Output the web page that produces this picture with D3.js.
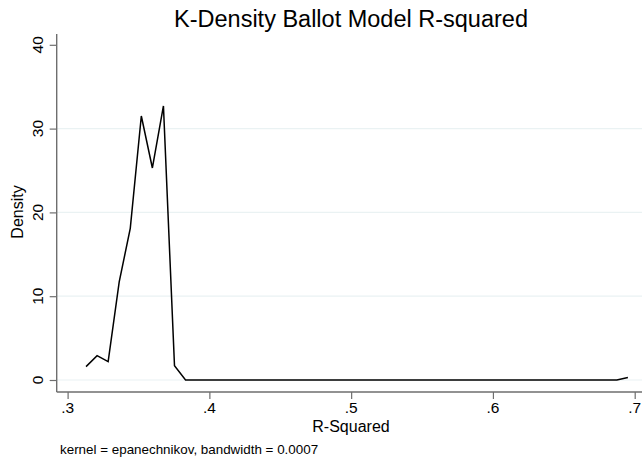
<!DOCTYPE html>
<html>
<head>
<meta charset="utf-8">
<script src="https://cdn.jsdelivr.net/npm/d3@7"></script>
<style>
  html, body { margin: 0; padding: 0; background: #fff; }
  text { font-family: "Liberation Sans", Arial, Helvetica, sans-serif; fill: #000; }
</style>
</head>
<body>
<svg id="chart" width="642" height="464"></svg>
<script>
const titleText = "K-Density Ballot Model R-squared";
const xLabel = "R-Squared";
const yLabel = "Density";
const noteText = "kernel = epanechnikov, bandwidth = 0.0007";

const rsq = [0.3130, 0.3208, 0.3286, 0.3364, 0.3442, 0.3520, 0.3598, 0.3676, 0.3754, 0.3832,
             0.3910, 0.3988, 0.4066, 0.4144, 0.4222, 0.4300, 0.4378, 0.4456, 0.4534, 0.4612,
             0.4690, 0.4768, 0.4846, 0.4924, 0.5002, 0.5080, 0.5158, 0.5236, 0.5314, 0.5392,
             0.5470, 0.5548, 0.5626, 0.5704, 0.5782, 0.5860, 0.5938, 0.6016, 0.6094, 0.6172,
             0.6250, 0.6328, 0.6406, 0.6484, 0.6562, 0.6640, 0.6718, 0.6796, 0.6874, 0.6952];
const density = [1.6, 2.9, 2.2, 11.7, 18.1, 31.5, 25.3, 32.7, 1.7, 0,
                 0, 0, 0, 0, 0, 0, 0, 0, 0, 0,
                 0, 0, 0, 0, 0, 0, 0, 0, 0, 0,
                 0, 0, 0, 0, 0, 0, 0, 0, 0, 0,
                 0, 0, 0, 0, 0, 0, 0, 0, 0, 0.3];
const xTicks = [0.3, 0.4, 0.5, 0.6, 0.7];
const xTickLabels = [".3", ".4", ".5", ".6", ".7"];
const yTicks = [0, 10, 20, 30, 40];
const yGrid = [0, 10, 20, 30];

const svg = d3.select("#chart");
const plotLeft = 56.7, plotRight = 642, plotTop = 34, plotBottom = 392;

const x = d3.scaleLinear().domain([0.3, 0.7]).range([67.6, 634.7]);
const y = d3.scaleLinear().domain([0, 40]).range([380, 44.8]);

// gridlines
svg.append("g").selectAll("line").data(yGrid).join("line")
  .attr("x1", plotLeft).attr("x2", plotRight)
  .attr("y1", d => y(d)).attr("y2", d => y(d))
  .attr("stroke", "#eaf2f3").attr("stroke-width", 1.2);

// density line
const line = d3.line().x((d, i) => x(rsq[i])).y(d => y(d));
svg.append("path").datum(density)
  .attr("d", line)
  .attr("fill", "none").attr("stroke", "#000").attr("stroke-width", 1.5)
  .attr("stroke-linejoin", "miter");

// y axis
const yAxis = d3.axisLeft(y).tickValues(yTicks).tickSize(7).tickFormat("");
const gy = svg.append("g").attr("transform", `translate(${plotLeft},0)`).call(yAxis);
gy.select(".domain").remove();
gy.selectAll(".tick line").attr("stroke", "#6e6e6e").attr("stroke-width", 1.2);
svg.append("line").attr("x1", plotLeft).attr("x2", plotLeft)
  .attr("y1", plotTop).attr("y2", plotBottom)
  .attr("stroke", "#6e6e6e").attr("stroke-width", 1.4);
svg.append("g").selectAll("text").data(yTicks).join("text")
  .attr("transform", d => `translate(43,${y(d)}) rotate(-90)`)
  .attr("text-anchor", "middle")
  .style("font-size", "15.5px")
  .text(d => d);

// x axis
const xAxis = d3.axisBottom(x).tickValues(xTicks).tickSize(7).tickFormat("");
const gx = svg.append("g").attr("transform", `translate(0,${plotBottom})`).call(xAxis);
gx.select(".domain").remove();
gx.selectAll(".tick line").attr("stroke", "#6e6e6e").attr("stroke-width", 1.2);
svg.append("line").attr("x1", plotLeft).attr("x2", plotRight)
  .attr("y1", plotBottom).attr("y2", plotBottom)
  .attr("stroke", "#6e6e6e").attr("stroke-width", 1.4);
svg.append("g").selectAll("text").data(xTicks).join("text")
  .attr("x", d => x(d)).attr("y", 413)
  .attr("text-anchor", "middle")
  .style("font-size", "15.5px")
  .text((d, i) => xTickLabels[i]);

// labels
svg.append("text").attr("x", 351).attr("y", 432)
  .attr("text-anchor", "middle").style("font-size", "16px").text(xLabel);
svg.append("text").attr("transform", "translate(23,212) rotate(-90)")
  .attr("text-anchor", "middle").style("font-size", "16px").text(yLabel);
svg.append("text").attr("x", 351).attr("y", 26.5)
  .attr("text-anchor", "middle").style("font-size", "23.5px").text(titleText);
svg.append("text").attr("x", 60).attr("y", 454)
  .style("font-size", "13.4px").text(noteText);
</script>
</body>
</html>
